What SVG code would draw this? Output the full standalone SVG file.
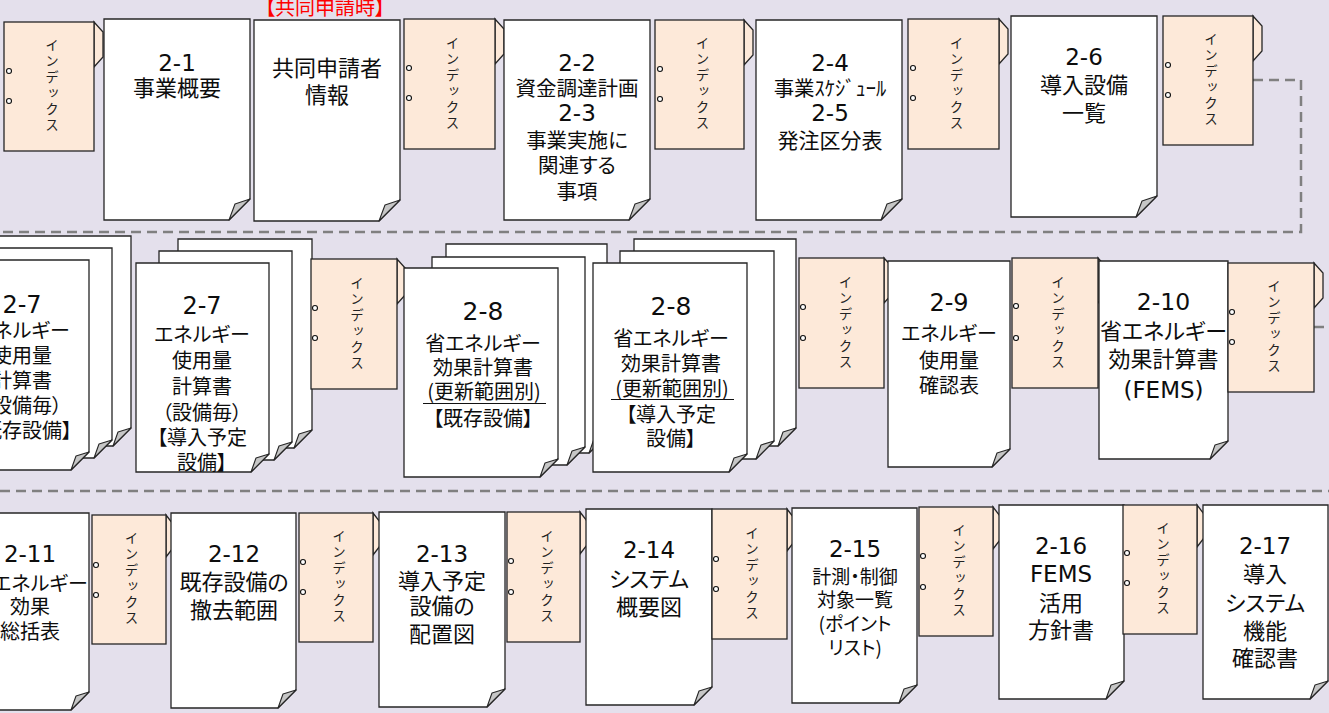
<svg xmlns="http://www.w3.org/2000/svg" width="1329" height="713" viewBox="0 0 1329 713">
<defs>
<style>
.bg{fill:#e4e0ec}
.page{fill:#ffffff;stroke:#262626;stroke-width:1.3}
.flap{fill:#c6c6c6;stroke:#262626;stroke-width:1.1;stroke-linejoin:round}
.tab{fill:#fde9d9;stroke:#262626;stroke-width:1.3}
.hole{fill:#ffffff;stroke:#111111;stroke-width:1.1}
.idx{font-family:"Noto Sans CJK JP","Noto Sans CJK SC",sans-serif;font-size:13.5px;fill:#222222;writing-mode:vertical-rl;text-orientation:upright;text-anchor:middle;letter-spacing:2.5px}
.t{font-family:"Noto Sans CJK JP","Noto Sans CJK SC",sans-serif;text-anchor:middle;fill:#0d0d0d;font-feature-settings:"palt"}
.n{font-family:"DejaVu Sans","Noto Sans CJK JP",sans-serif}
.ul{stroke:#111111;stroke-width:1.2}
.conn{fill:none;stroke:#808080;stroke-width:2.5;stroke-dasharray:10 6}
.red{font-family:"Noto Sans CJK JP","Noto Sans CJK SC",sans-serif;text-anchor:middle;fill:#ff0000;font-size:20px;font-feature-settings:"palt"}
</style>
</defs>
<rect class="bg" x="0" y="0" width="1329" height="713"/>

<g id="connectors">
<path class="conn" d="M1253 80 H1301 V232 H-5"/>
<path class="conn" d="M-10 86 H4"/>
<path class="conn" d="M1314 327 H1340 V491 H-5"/>
</g>

<!-- Row 1 -->
<g id="idx-r1-1">
<path class="tab" d="M94 22 L103 32 V57 L94 67 Z"/>
<rect class="tab" x="4" y="22" width="90" height="129"/>
<circle class="hole" cx="9" cy="71" r="2.5"/><circle class="hole" cx="9" cy="101" r="2.5"/>
<text class="idx" x="52" y="86.5">インデックス</text>
</g>
<g id="doc-2-1">
<path class="page" d="M104 19 H250 V199 L229 220 H104 Z"/>
<path class="flap" d="M250 199 L235 204 L229 220 Z"/>
<text class="t"><tspan class="n" x="177" y="70.5" font-size="23">2-1</tspan><tspan x="177" y="96.4" font-size="22">事業概要</tspan></text>
</g>
<g id="doc-kyodo">
<path class="page" d="M254 20 H400 V200 L379 221 H254 Z"/>
<path class="flap" d="M400 200 L385 205 L379 221 Z"/>
<text class="red" x="325" y="15">【共同申請時】</text>
<text class="t"><tspan x="327" y="76" font-size="22">共同申請者</tspan><tspan x="327" y="103.4" font-size="22">情報</tspan></text>
</g>
<g id="idx-r1-2">
<path class="tab" d="M495 19 L504 29 V54 L495 64 Z"/>
<rect class="tab" x="404" y="19" width="91" height="130"/>
<circle class="hole" cx="409" cy="68" r="2.5"/><circle class="hole" cx="409" cy="98" r="2.5"/>
<text class="idx" x="452.5" y="84">インデックス</text>
</g>
<g id="doc-2-2">
<path class="page" d="M504 20 H650 V199 L629 220 H504 Z"/>
<path class="flap" d="M650 199 L635 204 L629 220 Z"/>
<text class="t"><tspan class="n" x="577" y="71" font-size="23">2-2</tspan><tspan x="577" y="96" font-size="20.5">資金調達計画</tspan><tspan class="n" x="577" y="121" font-size="23">2-3</tspan><tspan x="577" y="147.6" font-size="20.5">事業実施に</tspan><tspan x="577" y="172.6" font-size="20.5">関連する</tspan><tspan x="577" y="198.6" font-size="20.5">事項</tspan></text>
</g>
<g id="idx-r1-3">
<path class="tab" d="M744 20 L753 30 V55 L744 65 Z"/>
<rect class="tab" x="655" y="20" width="89" height="129"/>
<circle class="hole" cx="660" cy="69" r="2.5"/><circle class="hole" cx="660" cy="99" r="2.5"/>
<text class="idx" x="702.5" y="84.5">インデックス</text>
</g>
<g id="doc-2-4">
<path class="page" d="M756 20 H902 V199 L881 220 H756 Z"/>
<path class="flap" d="M902 199 L887 204 L881 220 Z"/>
<text class="t"><tspan class="n" x="830" y="71" font-size="23">2-4</tspan><tspan x="830" y="95.6" font-size="20.5">事業ｽｹｼﾞｭｰﾙ</tspan><tspan class="n" x="830" y="121" font-size="23">2-5</tspan><tspan x="830" y="148" font-size="21">発注区分表</tspan></text>
</g>
<g id="idx-r1-4">
<path class="tab" d="M999 19 L1008 29 V54 L999 64 Z"/>
<rect class="tab" x="908" y="19" width="91" height="130"/>
<circle class="hole" cx="913" cy="68" r="2.5"/><circle class="hole" cx="913" cy="98" r="2.5"/>
<text class="idx" x="956.5" y="84">インデックス</text>
</g>
<g id="doc-2-6">
<path class="page" d="M1011 16 H1157 V196 L1136 217 H1011 Z"/>
<path class="flap" d="M1157 196 L1142 201 L1136 217 Z"/>
<text class="t"><tspan class="n" x="1084" y="65" font-size="23">2-6</tspan><tspan x="1084" y="93.4" font-size="22">導入設備</tspan><tspan x="1084" y="121.4" font-size="22">一覧</tspan></text>
</g>
<g id="idx-r1-5">
<path class="tab" d="M1253 16 L1262 26 V51 L1253 61 Z"/>
<rect class="tab" x="1163" y="16" width="90" height="129"/>
<circle class="hole" cx="1168" cy="65" r="2.5"/><circle class="hole" cx="1168" cy="95" r="2.5"/>
<text class="idx" x="1211" y="80.5">インデックス</text>
</g>

<!-- Row 2 -->
<g id="doc-2-7-existing">
<path class="page" d="M-2 236 H131 V428 L113 446 H-2 Z"/>
<path class="flap" d="M131 428 L118 432 L113 446 Z"/>
<path class="page" d="M-21 248 H112 V440 L94 458 H-21 Z"/>
<path class="flap" d="M112 440 L99 444 L94 458 Z"/>
<path class="page" d="M-44 260 H89 V452 L71 470 H-44 Z"/>
<path class="flap" d="M89 452 L76 456 L71 470 Z"/>
<text class="t"><tspan class="n" x="22" y="312.5" font-size="24">2-7</tspan><tspan x="22" y="337.6" font-size="20">エネルギー</tspan><tspan x="22" y="362.6" font-size="20">使用量</tspan><tspan x="22" y="387.6" font-size="20">計算書</tspan><tspan x="22" y="412.6" font-size="20">（設備毎）</tspan><tspan x="22" y="437.6" font-size="20">【既存設備】</tspan></text>
</g>
<g id="doc-2-7-planned">
<path class="page" d="M178 239 H312 V430 L294 448 H178 Z"/>
<path class="flap" d="M312 430 L299 434 L294 448 Z"/>
<path class="page" d="M159 251 H292 V442 L274 460 H159 Z"/>
<path class="flap" d="M292 442 L279 446 L274 460 Z"/>
<path class="page" d="M136 263 H269 V454 L251 472 H136 Z"/>
<path class="flap" d="M269 454 L256 458 L251 472 Z"/>
<text class="t"><tspan class="n" x="202" y="313.5" font-size="24">2-7</tspan><tspan x="202" y="341.6" font-size="20">エネルギー</tspan><tspan x="202" y="367.6" font-size="20">使用量</tspan><tspan x="202" y="394" font-size="20">計算書</tspan><tspan x="202" y="419.6" font-size="20">（設備毎）</tspan><tspan x="202" y="444.6" font-size="20">【導入予定</tspan><tspan x="202" y="469.6" font-size="20">設備】</tspan></text>
</g>
<g id="idx-r2-1">
<path class="tab" d="M397 259 L406 269 V294 L397 304 Z"/>
<rect class="tab" x="311" y="259" width="86" height="130"/>
<circle class="hole" cx="315" cy="308" r="2.5"/><circle class="hole" cx="315" cy="338" r="2.5"/>
<text class="idx" x="357" y="324">インデックス</text>
</g>
<g id="doc-2-8-existing">
<path class="page" d="M446 244 H607 V435 L589 453 H446 Z"/>
<path class="flap" d="M607 435 L594 439 L589 453 Z"/>
<path class="page" d="M432 257 H585 V447 L567 465 H432 Z"/>
<path class="flap" d="M585 447 L572 451 L567 465 Z"/>
<path class="page" d="M404 268 H558 V459 L540 477 H404 Z"/>
<path class="flap" d="M558 459 L545 463 L540 477 Z"/>
<text class="t"><tspan class="n" x="483" y="319.5" font-size="25">2-8</tspan><tspan x="483" y="351" font-size="20">省エネルギー</tspan><tspan x="483" y="374.6" font-size="20">効果計算書</tspan><tspan x="484" y="398.6" font-size="20">(更新範囲別)</tspan><tspan x="483" y="426" font-size="20">【既存設備】</tspan></text>
<line class="ul" x1="423" y1="403.5" x2="546" y2="403.5"/>
</g>
<g id="doc-2-8-planned">
<path class="page" d="M634 239 H796 V428 L778 446 H634 Z"/>
<path class="flap" d="M796 428 L783 432 L778 446 Z"/>
<path class="page" d="M620 251 H774 V441 L756 459 H620 Z"/>
<path class="flap" d="M774 441 L761 445 L756 459 Z"/>
<path class="page" d="M593 263 H747 V454 L729 472 H593 Z"/>
<path class="flap" d="M747 454 L734 458 L729 472 Z"/>
<text class="t"><tspan class="n" x="671" y="314.5" font-size="25">2-8</tspan><tspan x="671" y="345.6" font-size="20">省エネルギー</tspan><tspan x="671" y="371" font-size="20">効果計算書</tspan><tspan x="672" y="396" font-size="20">(更新範囲別)</tspan><tspan x="671" y="421.6" font-size="20">【導入予定</tspan><tspan x="671" y="446" font-size="20">設備】</tspan></text>
<line class="ul" x1="611" y1="399.5" x2="734" y2="399.5"/>
</g>
<g id="idx-r2-2">
<path class="tab" d="M884 258 L893 268 V293 L884 303 Z"/>
<rect class="tab" x="799" y="258" width="85" height="130"/>
<circle class="hole" cx="803" cy="307" r="2.5"/><circle class="hole" cx="803" cy="338" r="2.5"/>
<text class="idx" x="845.5" y="323">インデックス</text>
</g>
<g id="doc-2-9">
<path class="page" d="M888 261 H1010 V449 L992 467 H888 Z"/>
<path class="flap" d="M1010 449 L997 453 L992 467 Z"/>
<text class="t"><tspan class="n" x="949" y="310.5" font-size="24">2-9</tspan><tspan x="949" y="340.6" font-size="20">エネルギー</tspan><tspan x="949" y="367.6" font-size="20">使用量</tspan><tspan x="949" y="392.6" font-size="20">確認表</tspan></text>
</g>
<g id="idx-r2-3">
<path class="tab" d="M1098 258 L1107 268 V293 L1098 303 Z"/>
<rect class="tab" x="1012" y="258" width="86" height="130"/>
<circle class="hole" cx="1016" cy="306" r="2.5"/><circle class="hole" cx="1016" cy="338" r="2.5"/>
<text class="idx" x="1058" y="323">インデックス</text>
</g>
<g id="doc-2-10">
<path class="page" d="M1099 261 H1228 V441 L1210 459 H1099 Z"/>
<path class="flap" d="M1228 441 L1215 445 L1210 459 Z"/>
<text class="t"><tspan class="n" x="1163.5" y="310" font-size="23.5">2-10</tspan><tspan x="1163.5" y="339.4" font-size="22">省エネルギー</tspan><tspan x="1163.5" y="367.4" font-size="22">効果計算書</tspan><tspan class="n" x="1163.5" y="397.6" font-size="23">(FEMS)</tspan></text>
</g>
<g id="idx-r2-4">
<path class="tab" d="M1314 263 L1323 273 V298 L1314 308 Z"/>
<rect class="tab" x="1228" y="263" width="86" height="129"/>
<circle class="hole" cx="1232" cy="312" r="2.5"/><circle class="hole" cx="1232" cy="342" r="2.5"/>
<text class="idx" x="1274" y="327.5">インデックス</text>
</g>

<!-- Row 3 -->
<g id="doc-2-11">
<path class="page" d="M-32 513 H89 V692 L71 710 H-32 Z"/>
<path class="flap" d="M89 692 L76 696 L71 710 Z"/>
<text class="t"><tspan class="n" x="30" y="562" font-size="23">2-11</tspan><tspan x="30" y="590.6" font-size="20">省エネルギー</tspan><tspan x="30" y="614" font-size="20">効果</tspan><tspan x="30" y="639" font-size="20">総括表</tspan></text>
</g>
<g id="idx-r3-1">
<path class="tab" d="M166 515 L173 524 V548 L166 557 Z"/>
<rect class="tab" x="92" y="515" width="74" height="129"/>
<circle class="hole" cx="96" cy="565" r="2.5"/><circle class="hole" cx="96" cy="595" r="2.5"/>
<text class="idx" x="131.5" y="579.5">インデックス</text>
</g>
<g id="doc-2-12">
<path class="page" d="M171 513 H296 V690 L278 708 H171 Z"/>
<path class="flap" d="M296 690 L283 694 L278 708 Z"/>
<text class="t"><tspan class="n" x="234" y="562" font-size="23">2-12</tspan><tspan x="234" y="590.4" font-size="22">既存設備の</tspan><tspan x="234" y="618.4" font-size="22">撤去範囲</tspan></text>
</g>
<g id="idx-r3-2">
<path class="tab" d="M373 513 L380 522 V546 L373 555 Z"/>
<rect class="tab" x="299" y="513" width="74" height="129"/>
<circle class="hole" cx="303" cy="562" r="2.5"/><circle class="hole" cx="303" cy="592" r="2.5"/>
<text class="idx" x="339" y="577.5">インデックス</text>
</g>
<g id="doc-2-13">
<path class="page" d="M379 512 H505 V689 L487 707 H379 Z"/>
<path class="flap" d="M505 689 L492 693 L487 707 Z"/>
<text class="t"><tspan class="n" x="442" y="561.5" font-size="23">2-13</tspan><tspan x="442" y="589.4" font-size="22">導入予定</tspan><tspan x="442" y="614.4" font-size="22">設備の</tspan><tspan x="442" y="642.4" font-size="22">配置図</tspan></text>
</g>
<g id="idx-r3-3">
<path class="tab" d="M580 512 L587 521 V545 L580 554 Z"/>
<rect class="tab" x="507" y="512" width="73" height="130"/>
<circle class="hole" cx="511" cy="561" r="2.5"/><circle class="hole" cx="511" cy="592" r="2.5"/>
<text class="idx" x="547" y="577">インデックス</text>
</g>
<g id="doc-2-14">
<path class="page" d="M586 509 H712 V687 L694 705 H586 Z"/>
<path class="flap" d="M712 687 L699 691 L694 705 Z"/>
<text class="t"><tspan class="n" x="649" y="557.5" font-size="23">2-14</tspan><tspan x="649" y="587.4" font-size="22">システム</tspan><tspan x="649" y="615.4" font-size="22">概要図</tspan></text>
</g>
<g id="idx-r3-4">
<path class="tab" d="M787 509 L794 518 V542 L787 551 Z"/>
<rect class="tab" x="712" y="509" width="75" height="130"/>
<circle class="hole" cx="716" cy="559" r="2.5"/><circle class="hole" cx="716" cy="589" r="2.5"/>
<text class="idx" x="752" y="574">インデックス</text>
</g>
<g id="doc-2-15">
<path class="page" d="M792 508 H917 V685 L899 703 H792 Z"/>
<path class="flap" d="M917 685 L904 689 L899 703 Z"/>
<text class="t"><tspan class="n" x="855" y="557" font-size="23">2-15</tspan><tspan x="855" y="583.7" font-size="19">計測・制御</tspan><tspan x="855" y="607.2" font-size="19">対象一覧</tspan><tspan x="855" y="631.2" font-size="19">(ポイント</tspan><tspan x="855" y="655.2" font-size="19">リスト)</tspan></text>
</g>
<g id="idx-r3-5">
<path class="tab" d="M993 507 L1000 516 V540 L993 549 Z"/>
<rect class="tab" x="919" y="507" width="74" height="129"/>
<circle class="hole" cx="923" cy="556" r="2.5"/><circle class="hole" cx="923" cy="587" r="2.5"/>
<text class="idx" x="959" y="571.5">インデックス</text>
</g>
<g id="doc-2-16">
<path class="page" d="M999 505 H1124 V681 L1106 699 H999 Z"/>
<path class="flap" d="M1124 681 L1111 685 L1106 699 Z"/>
<text class="t"><tspan class="n" x="1061" y="553.5" font-size="23">2-16</tspan><tspan class="n" x="1061" y="582" font-size="23">FEMS</tspan><tspan x="1061" y="610.9" font-size="22">活用</tspan><tspan x="1061" y="638.4" font-size="22">方針書</tspan></text>
</g>
<g id="idx-r3-6">
<path class="tab" d="M1197 505 L1204 514 V538 L1197 547 Z"/>
<rect class="tab" x="1123" y="505" width="74" height="129"/>
<circle class="hole" cx="1127" cy="553" r="2.5"/><circle class="hole" cx="1127" cy="583" r="2.5"/>
<text class="idx" x="1163" y="569.5">インデックス</text>
</g>
<g id="doc-2-17">
<path class="page" d="M1203 505 H1328 V681 L1310 699 H1203 Z"/>
<path class="flap" d="M1328 681 L1315 685 L1310 699 Z"/>
<text class="t"><tspan class="n" x="1265" y="553.5" font-size="23">2-17</tspan><tspan x="1265" y="582.4" font-size="22">導入</tspan><tspan x="1265" y="610.9" font-size="22">システム</tspan><tspan x="1265" y="639.4" font-size="22">機能</tspan><tspan x="1265" y="666.4" font-size="22">確認書</tspan></text>
</g>
</svg>
